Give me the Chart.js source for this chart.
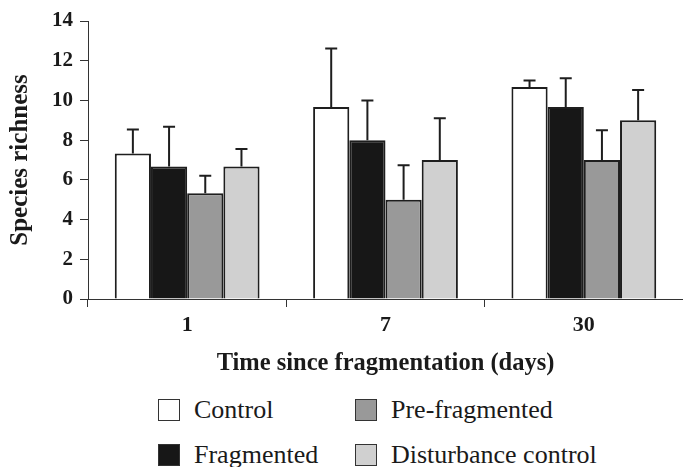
<!DOCTYPE html>
<html>
<head>
<meta charset="utf-8">
<script src="https://cdn.jsdelivr.net/npm/chart.js@4"></script>
<style>
  body { margin: 0; background: #fff; }
  #wrap { position: relative; width: 683px; height: 467px; }
  #box { position: absolute; left: 0; top: 0; width: 683px; height: 380px; }
  .leg { position: absolute; display: flex; align-items: center; font: 26px "Liberation Serif", serif; color: #1a1a1a; }
  .leg span.sw { width: 22px; height: 22px; border: 1px solid #333; box-sizing: border-box; margin-right: 14px; }
</style>
</head>
<body>
<div id="wrap">
  <div id="box"><canvas id="myChart"></canvas></div>
  <div id="legend"></div>
</div>
<script>
const days = ['1', '7', '30'];
const groups = ['Control', 'Fragmented', 'Pre-fragmented', 'Disturbance control'];
const control = [7.33, 9.67, 10.67];
const fragmented = [6.67, 8.0, 9.67];
const preFragmented = [5.33, 5.0, 7.0];
const disturbance = [6.67, 7.0, 9.0];
const controlErr = [1.2, 2.95, 0.33];
const fragmentedErr = [2.0, 2.0, 1.45];
const preFragmentedErr = [0.88, 1.73, 1.5];
const disturbanceErr = [0.88, 2.1, 1.52];
const yTicks = [0, 2, 4, 6, 8, 10, 12, 14];

const colors = ['#ffffff', '#171717', '#999999', '#d0d0d0'];
const values = [control, fragmented, preFragmented, disturbance];
const errors = [controlErr, fragmentedErr, preFragmentedErr, disturbanceErr];

// upper error bars with caps
const errorBars = {
    id: 'errorBars',
    afterDatasetsDraw(chart) {
        const ctx = chart.ctx;
        const y = chart.scales.y;
        ctx.save();
        ctx.strokeStyle = '#1e1e1e';
        ctx.lineWidth = 2;
        chart.data.datasets.forEach((ds, i) => {
            chart.getDatasetMeta(i).data.forEach((bar, j) => {
                const top = y.getPixelForValue(ds.data[j] + errors[i][j]);
                ctx.beginPath();
                ctx.moveTo(bar.x, bar.y);
                ctx.lineTo(bar.x, top);
                ctx.moveTo(bar.x - 6, top);
                ctx.lineTo(bar.x + 6, top);
                ctx.stroke();
            });
        });
        ctx.restore();
    }
};

new Chart(document.getElementById('myChart'), {
    type: 'bar',
    data: {
        labels: days,
        datasets: groups.map((g, i) => ({
            label: g,
            data: values[i],
            backgroundColor: colors[i],
            borderColor: '#1e1e1e',
            borderWidth: 2,
            categoryPercentage: 0.73,
            barPercentage: 1.0
        }))
    },
    options: {
        responsive: true,
        maintainAspectRatio: false,
        animation: false,
        layout: { padding: { top: 21, right: 0, left: 0, bottom: 0 } },
        scales: {
            x: {
                afterFit: s => { s.height = 81; },
                grid: { drawOnChartArea: false, tickLength: 8, color: '#333', offset: true },
                border: { color: '#333', width: 1 },
                ticks: { color: '#1a1a1a', padding: 5, font: { family: 'Liberation Serif', size: 22, weight: 'bold' } },
                title: {
                    display: true,
                    text: 'Time since fragmentation (days)',
                    color: '#1a1a1a',
                    padding: { top: 0, bottom: 2 },
                    font: { family: 'Liberation Serif', size: 24.5, weight: 'bold' }
                }
            },
            y: {
                min: 0,
                max: 14,
                afterFit: s => { s.width = 88; },
                afterBuildTicks: s => { s.ticks = yTicks.map(v => ({ value: v })); },
                grid: { drawOnChartArea: false, tickLength: 8, color: '#333' },
                border: { color: '#333', width: 1 },
                ticks: { color: '#1a1a1a', padding: 7, font: { family: 'Liberation Serif', size: 21, weight: 'bold' } },
                title: {
                    display: true,
                    text: 'Species richness',
                    color: '#1a1a1a',
                    padding: { top: 6, bottom: 0 },
                    font: { family: 'Liberation Serif', size: 25, weight: 'bold' }
                }
            }
        },
        plugins: {
            legend: { display: false },
            tooltip: { enabled: false }
        }
    },
    plugins: [errorBars]
});

// legend in two columns: Control / Fragmented, Pre-fragmented / Disturbance control
const legend = document.getElementById('legend');
const legPos = [[158, 399], [158, 444], [355, 399], [355, 444]];
groups.forEach((g, i) => {
    const item = document.createElement('div');
    item.className = 'leg';
    item.style.left = legPos[i][0] + 'px';
    item.style.top = (legPos[i][1] - 4) + 'px';
    item.innerHTML = `<span class="sw" style="background:${colors[i]}"></span>${g}`;
    legend.append(item);
});
</script>
</body>
</html>
